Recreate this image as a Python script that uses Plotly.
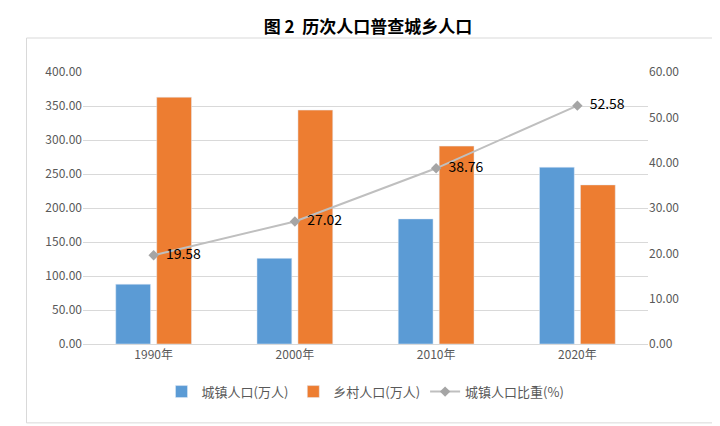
import plotly.graph_objects as go

years = ["1990年", "2000年", "2010年", "2020年"]
urban = [88, 126, 184, 260]
rural = [363, 344, 291, 234]
ratio = [19.58, 27.02, 38.76, 52.58]

fig = go.Figure()
fig.add_bar(x=years, y=urban, name="城镇人口(万人)", marker_color="#5B9BD5")
fig.add_bar(x=years, y=rural, name="乡村人口(万人)", marker_color="#ED7D31")
fig.add_scatter(x=years, y=ratio, name="城镇人口比重(%)", yaxis="y2", mode="lines+markers+text",
                line=dict(color="#BFBFBF", width=2), marker=dict(symbol="diamond", size=8, color="#A5A5A5"),
                text=[f"  {v:.2f}" for v in ratio], textposition="middle right",
                textfont=dict(size=14, color="#000"))
fig.update_layout(
    width=720, height=426, paper_bgcolor="white", plot_bgcolor="white",
    font=dict(family="Noto Sans CJK SC", size=12, color="#595959"),
    title=dict(text="<b>图 2  历次人口普查城乡人口</b>", x=0.5, y=0.97, font=dict(size=17, color="#000")),
    margin=dict(l=75, r=80, t=64, b=90),
    barmode="group", bargap=0.42, bargroupgap=0.15,
    yaxis=dict(range=[0, 400], dtick=50, tickformat=".2f", gridcolor="#D9D9D9", zeroline=False,
               ticks="", showline=False),
    yaxis2=dict(range=[0, 60], dtick=10, tickformat=".2f", overlaying="y", side="right", showgrid=False),
    xaxis=dict(showline=True, linecolor="#D9D9D9"),
    legend=dict(orientation="h", x=0.5, xanchor="center", y=-0.12, font=dict(size=13)),
    shapes=[dict(type="rect", xref="paper", yref="paper", x0=-0.1, x1=1.12, y0=-0.29, y1=1.125,
                 line=dict(color="#D9D9D9", width=1))],
)
fig.write_html("out.html")
